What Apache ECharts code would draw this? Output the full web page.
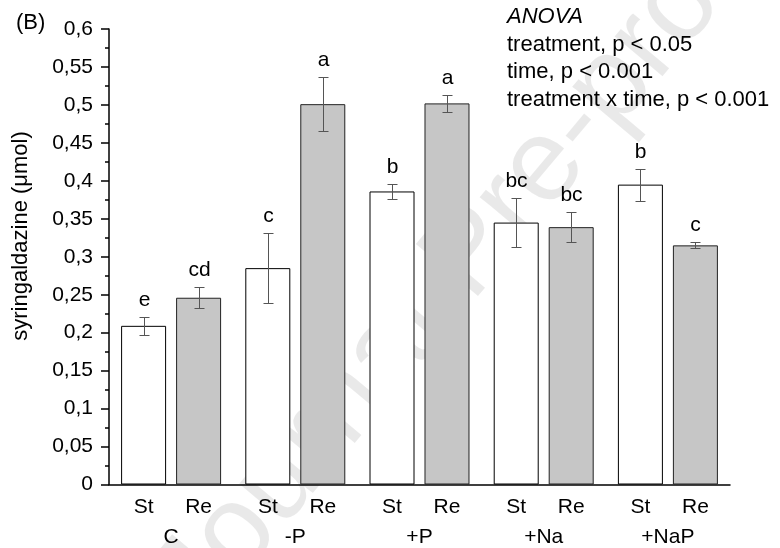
<!DOCTYPE html>
<html><head><meta charset="utf-8">
<script src="https://cdn.jsdelivr.net/npm/echarts@6/dist/echarts.min.js"></script>
<style>html,body{margin:0;padding:0;background:#fff}#c{width:780px;height:548px}</style>
</head><body><div id="c"></div>
<script>
// ---- data ----
const categories = ["C", "-P", "+P", "+Na", "+NaP"];
const timeLabels = ["St", "Re"];
const stMeans = [0.209, 0.285, 0.386, 0.345, 0.395];
const stErrs  = [0.012, 0.046, 0.010, 0.032, 0.021];
const reMeans = [0.246, 0.501, 0.502, 0.339, 0.315];
const reErrs  = [0.014, 0.036, 0.011, 0.020, 0.004];
const stLetters = ["e", "c", "b", "bc", "b"];
const reLetters = ["cd", "a", "a", "bc", "c"];
const yTicks = { min: 0, max: 0.6, interval: 0.05 };
const yName = "syringaldazine (\u03bcmol)";
const anovaLines = ["ANOVA", "treatment, p < 0.05", "time, p < 0.001", "treatment x time, p < 0.001"];

// ---- style ----
const FONT = '"Liberation Sans", Arial, sans-serif';
const BAR_W = 45, BAR_OFF = 27.5, CAP = 5;

function errSeries(means, errs, letters, sign) {
  return {
    type: 'custom', z: 5, silent: true,
    data: means.map((m, i) => [i, m, errs[i]]),
    renderItem(params, api) {
      const i = api.value(0), m = api.value(1), e = api.value(2);
      const top = api.coord([i, m + e]);
      const bot = api.coord([i, m - e]);
      const x = Math.round(top[0] + sign * BAR_OFF) + 0.5;
      const yt = Math.round(top[1]) + 0.5, yb = Math.round(bot[1]) + 0.5;
      const st = { stroke: '#555', lineWidth: 1 };
      return { type: 'group', children: [
        { type: 'line', shape: { x1: x, y1: yt, x2: x, y2: yb }, style: st },
        { type: 'line', shape: { x1: x - CAP, y1: yt, x2: x + CAP, y2: yt }, style: st },
        { type: 'line', shape: { x1: x - CAP, y1: yb, x2: x + CAP, y2: yb }, style: st },
        { type: 'text', style: { text: letters[params.dataIndex], x: x, y: yt - 7,
          align: 'center', verticalAlign: 'bottom', fontSize: 21, fontFamily: FONT, fill: '#000' } }
      ]};
    }
  };
}

const chart = echarts.init(document.getElementById('c'));
const graphic = [
  { type: 'text', z: 0, x: 470, y: 255, rotation: 50 * Math.PI / 180, silent: true,
    style: { text: 'Journal Pre-proof', fontSize: 118, fontFamily: FONT, fill: 'rgba(0,0,0,0.085)', align: 'center', verticalAlign: 'middle' } },
  { type: 'text', x: 16, y: 23, style: { text: '(B)', fontSize: 22, fontFamily: FONT, fill: '#000', verticalAlign: 'middle' } },
  { type: 'text', x: 21, y: 236, rotation: Math.PI / 2,
    style: { text: yName, fontSize: 22, fontFamily: FONT, fill: '#000', align: 'center', verticalAlign: 'middle' } }
];
const anovaY = [17, 45, 72, 100];
anovaLines.forEach((t, k) => graphic.push({
  type: 'text', x: 507, y: anovaY[k],
  style: { text: t, fontSize: 22, fontFamily: FONT, fill: '#000', verticalAlign: 'middle', fontStyle: k === 0 ? 'italic' : 'normal' }
}));

chart.setOption({
  animation: false,
  backgroundColor: '#fff',
  textStyle: { fontFamily: FONT },
  grid: { left: 109, right: 50, top: 29, bottom: 63, containLabel: false },
  graphic: graphic,
  xAxis: {
    type: 'category', data: categories,
    axisLine: { lineStyle: { color: '#000', width: 1.5 } },
    axisTick: { alignWithLabel: true, length: 7, lineStyle: { color: '#000', width: 1.5 } },
    axisLabel: {
      margin: 8, color: '#000', interval: 0,
      formatter: v => `{s|${timeLabels[0]}}{r|${timeLabels[1]}}\n{g|${v}}`,
      rich: {
        s: { width: 55, align: 'center', fontSize: 21, lineHeight: 30, fontFamily: FONT, color: '#000' },
        r: { width: 55, align: 'center', fontSize: 21, lineHeight: 30, fontFamily: FONT, color: '#000' },
        g: { width: 110, align: 'center', fontSize: 21, lineHeight: 30, fontFamily: FONT, color: '#000' }
      }
    }
  },
  yAxis: {
    type: 'value', min: yTicks.min, max: yTicks.max, interval: yTicks.interval,
    axisLine: { show: true, lineStyle: { color: '#000', width: 1.5 } },
    axisTick: { show: true, length: 8, lineStyle: { color: '#000', width: 1.5 } },
    minorTick: { show: true, splitNumber: 2, length: 4, lineStyle: { color: '#000', width: 1.5 } },
    splitLine: { show: false },
    axisLabel: { margin: 16, color: '#000', fontSize: 21, fontFamily: FONT,
      formatter: v => String(+v.toFixed(2)).replace('.', ',') }
  },
  series: [
    { type: 'bar', name: timeLabels[0], data: stMeans, barWidth: BAR_W, barGap: '22.2%', z: 3,
      itemStyle: { color: '#ffffff', borderColor: '#000', borderWidth: 1 } },
    { type: 'bar', name: timeLabels[1], data: reMeans, barWidth: BAR_W, barGap: '22.2%', z: 3,
      itemStyle: { color: '#c6c6c6', borderColor: '#222', borderWidth: 1 } },
    errSeries(stMeans, stErrs, stLetters, -1),
    errSeries(reMeans, reErrs, reLetters, 1)
  ]
});
</script></body></html>
